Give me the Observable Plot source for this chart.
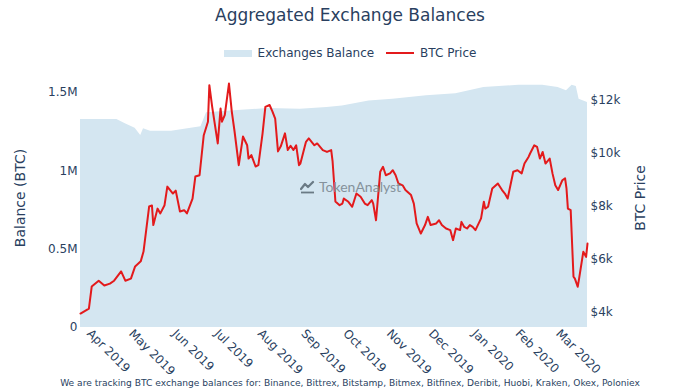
<!DOCTYPE html>
<html>
<head>
<meta charset="utf-8">
<script src="https://cdn.jsdelivr.net/npm/d3@7"></script>
<script src="https://cdn.jsdelivr.net/npm/@observablehq/plot@0.6"></script>
<style>
  html, body { margin: 0; padding: 0; background: #fff; }
  #wrap { position: relative; width: 700px; height: 390px; overflow: hidden; font-family: "DejaVu Sans", Verdana, sans-serif; color: #2a3f5f; }
  #chart { position: absolute; left: 0; top: 0; }
  .abs { position: absolute; white-space: nowrap; }
  #title { top: 4px; left: 0; width: 700px; text-align: center; font-size: 17px; line-height: 22px; }
  #legend { top: 45px; left: 0; width: 700px; display: flex; justify-content: center; align-items: center; font-size: 12px; line-height: 16px; }
  .sw { display: inline-block; width: 28px; margin-right: 6px; }
  #ylab, #y2lab { font-size: 14px; transform: translate(-50%, -50%) rotate(-90deg); }
  #caption { top: 377px; left: 0; width: 700px; text-align: center; font-size: 9.1px; line-height: 12px; }
  #wm { left: 300px; top: 178px; font-family: Lato, sans-serif; font-size: 14px; color: #7d8a93; display: flex; align-items: center; opacity: 0.9; }
</style>
</head>
<body>
<div id="wrap">
  <div id="chart"></div>
  <div id="title" class="abs">Aggregated Exchange Balances</div>
  <div id="legend" class="abs">
    <span class="sw" style="height:7px;background:#d4e6f1"></span><span>Exchanges Balance</span>
    <span class="sw" style="height:2px;background:#e31a1c;margin-left:12px"></span><span>BTC Price</span>
  </div>
  <div id="ylab" class="abs" style="left:20px;top:198px">Balance (BTC)</div>
  <div id="y2lab" class="abs" style="left:640px;top:198px">BTC Price</div>
  <div id="wm" class="abs"><svg width="16" height="14" style="margin-right:3px"><path d="M1 9 L5 4 L8 7 L13 2" fill="none" stroke="#5f6f7a" stroke-width="2.2" stroke-linecap="round" stroke-linejoin="round"/><path d="M1 12.5 L14 12.5" stroke="#5f6f7a" stroke-width="1.8"/></svg><span>TokenAnalyst</span></div>
  <div id="caption" class="abs">We are tracking BTC exchange balances for: Binance, Bittrex, Bitstamp, Bitmex, Bitfinex, Deribit, Huobi, Kraken, Okex, Poloniex</div>
</div>
<script>
// ---- data ----
const balanceDates = ["2019-03-26","2019-04-21","2019-04-27","2019-05-04","2019-05-08","2019-05-10","2019-05-15","2019-05-30","2019-06-13","2019-06-20","2019-06-24","2019-07-11","2019-08-07","2019-08-30","2019-09-18","2019-09-29","2019-10-18","2019-11-04","2019-11-28","2019-12-19","2020-01-08","2020-02-02","2020-02-19","2020-03-01","2020-03-07","2020-03-11","2020-03-14","2020-03-16","2020-03-22"];
const balances = [1327000,1327000,1300000,1270000,1225000,1267000,1252000,1252000,1270000,1280000,1370000,1380000,1397000,1392000,1403000,1413000,1445000,1456000,1477000,1490000,1530000,1545000,1545000,1530000,1509000,1545000,1537000,1456000,1435000];

const priceDates = ["2019-03-26","2019-04-01","2019-04-03","2019-04-08","2019-04-12","2019-04-16","2019-04-19","2019-04-24","2019-04-27","2019-05-01",
"2019-05-04","2019-05-08","2019-05-10","2019-05-14","2019-05-16","2019-05-17","2019-05-20","2019-05-22","2019-05-25","2019-05-27",
"2019-05-31","2019-06-02","2019-06-05","2019-06-08","2019-06-10","2019-06-14","2019-06-16","2019-06-19","2019-06-22","2019-06-25",
"2019-06-26","2019-06-28","2019-07-02","2019-07-04","2019-07-05","2019-07-07","2019-07-10","2019-07-12","2019-07-14","2019-07-17",
"2019-07-20","2019-07-23","2019-07-24","2019-07-26","2019-07-29","2019-07-31","2019-08-03","2019-08-05","2019-08-08","2019-08-10",
"2019-08-12","2019-08-14","2019-08-16","2019-08-19","2019-08-21","2019-08-23","2019-08-25","2019-08-27","2019-08-29","2019-08-30",
"2019-09-03","2019-09-05","2019-09-09","2019-09-11","2019-09-15","2019-09-18","2019-09-21","2019-09-22","2019-09-24","2019-09-27",
"2019-09-29","2019-09-30","2019-10-03","2019-10-06","2019-10-09","2019-10-12","2019-10-15","2019-10-17","2019-10-20","2019-10-21",
"2019-10-23","2019-10-26","2019-10-28","2019-10-30","2019-11-02","2019-11-04","2019-11-06","2019-11-08","2019-11-11","2019-11-13",
"2019-11-17","2019-11-19","2019-11-21","2019-11-24","2019-11-27","2019-11-29","2019-12-01","2019-12-05","2019-12-07","2019-12-09",
"2019-12-12","2019-12-15","2019-12-17","2019-12-19","2019-12-22","2019-12-23","2019-12-25","2019-12-27","2019-12-29","2019-12-31",
"2020-01-02","2020-01-06","2020-01-08","2020-01-09","2020-01-11","2020-01-14","2020-01-18","2020-01-21","2020-01-23","2020-01-25",
"2020-01-29","2020-02-01","2020-02-04","2020-02-06","2020-02-09","2020-02-10","2020-02-13","2020-02-15","2020-02-17","2020-02-19",
"2020-02-21","2020-02-24","2020-02-26","2020-02-28","2020-03-01","2020-03-04","2020-03-06","2020-03-07","2020-03-08","2020-03-10",
"2020-03-12","2020-03-13","2020-03-15","2020-03-16","2020-03-19","2020-03-21","2020-03-22"];
const prices = [3960,4150,4980,5200,5020,5090,5200,5550,5200,5280,
5740,5930,6300,8000,8040,7300,7920,7740,8050,8750,
8490,8600,7810,7860,7740,8300,9130,9180,10690,11200,
12580,11770,10380,11700,11200,11450,12640,11590,10830,9560,
10640,10310,9810,9940,9510,9560,10760,11760,11830,11590,
11320,10080,10270,10760,10130,10290,10130,10310,9560,9620,
10440,10570,10310,10380,10130,10060,10130,9700,8190,8050,
8110,8300,8190,7990,8490,8370,8110,8050,8240,8110,
7480,9310,9500,9180,9250,9370,9180,8870,8800,8620,
8430,8110,7360,6980,7300,7610,7300,7360,7480,7300,
7170,7110,6730,7170,7110,7420,7230,7170,7300,7230,
7110,7550,8180,7920,7990,8680,8870,8620,8490,8300,
9310,9370,9250,9620,9880,10000,10310,10250,9810,10060,
9620,9810,9250,8800,8620,8990,9060,8680,7920,7860,
5350,5280,4970,5280,6290,6100,6600];

const balanceTicks = [0, 500000, 1000000, 1500000];
const priceTicks = [4000, 6000, 8000, 10000, 12000];
const monthTicks = ["2019-04-01","2019-05-01","2019-06-01","2019-07-01","2019-08-01","2019-09-01","2019-10-01","2019-11-01","2019-12-01","2020-01-01","2020-02-01","2020-03-01"];
const xDomain = ["2019-03-26", "2020-03-22"];
const balanceDomain = [0, 1575000];
const priceDomain = [3434, 12755];

// ---- build tables ----
const balData = balanceDates.map((d, i) => ({date: new Date(d), value: balances[i]}));
const priceData = priceDates.map((d, i) => ({date: new Date(d), price: prices[i]}));

// secondary (price) axis expressed in the primary y scale's units
const toY = p => (p - priceDomain[0]) / (priceDomain[1] - priceDomain[0]) * balanceDomain[1];
const fromY = v => priceDomain[0] + v / balanceDomain[1] * (priceDomain[1] - priceDomain[0]);

const fmtBal = d => d === 0 ? "0" : (d / 1e6) + "M";
const fmtMonth = d3.utcFormat("%b %Y");

const chart = Plot.plot({
  width: 700,
  height: 390,
  marginTop: 80,
  marginBottom: 63,
  marginLeft: 80,
  marginRight: 113,
  style: {fontFamily: "DejaVu Sans, Verdana, sans-serif", fontSize: "12px", color: "#2a3f5f", background: "transparent", overflow: "visible"},
  x: {type: "utc", domain: xDomain.map(d => new Date(d))},
  y: {domain: balanceDomain},
  marks: [
    Plot.areaY(balData, {x: "date", y: "value", fill: "#d4e6f1"}),
    Plot.line(priceData, {x: "date", y: d => toY(d.price), stroke: "#e31a1c", strokeWidth: 2, strokeLinejoin: "round"}),
    Plot.axisY(balanceTicks, {anchor: "left", tickSize: 0, tickPadding: 3, tickFormat: fmtBal, label: null}),
    Plot.axisY(priceTicks.map(toY), {anchor: "right", tickSize: 0, tickPadding: 3, tickFormat: v => "$" + Math.round(fromY(v) / 1000) + "k", label: null}),
    Plot.axisX(monthTicks.map(d => new Date(d)), {anchor: "bottom", tickSize: 0, tickPadding: 4, tickRotate: 45, tickFormat: fmtMonth, label: null})
  ]
});
document.getElementById("chart").appendChild(chart);
</script>
</body>
</html>
